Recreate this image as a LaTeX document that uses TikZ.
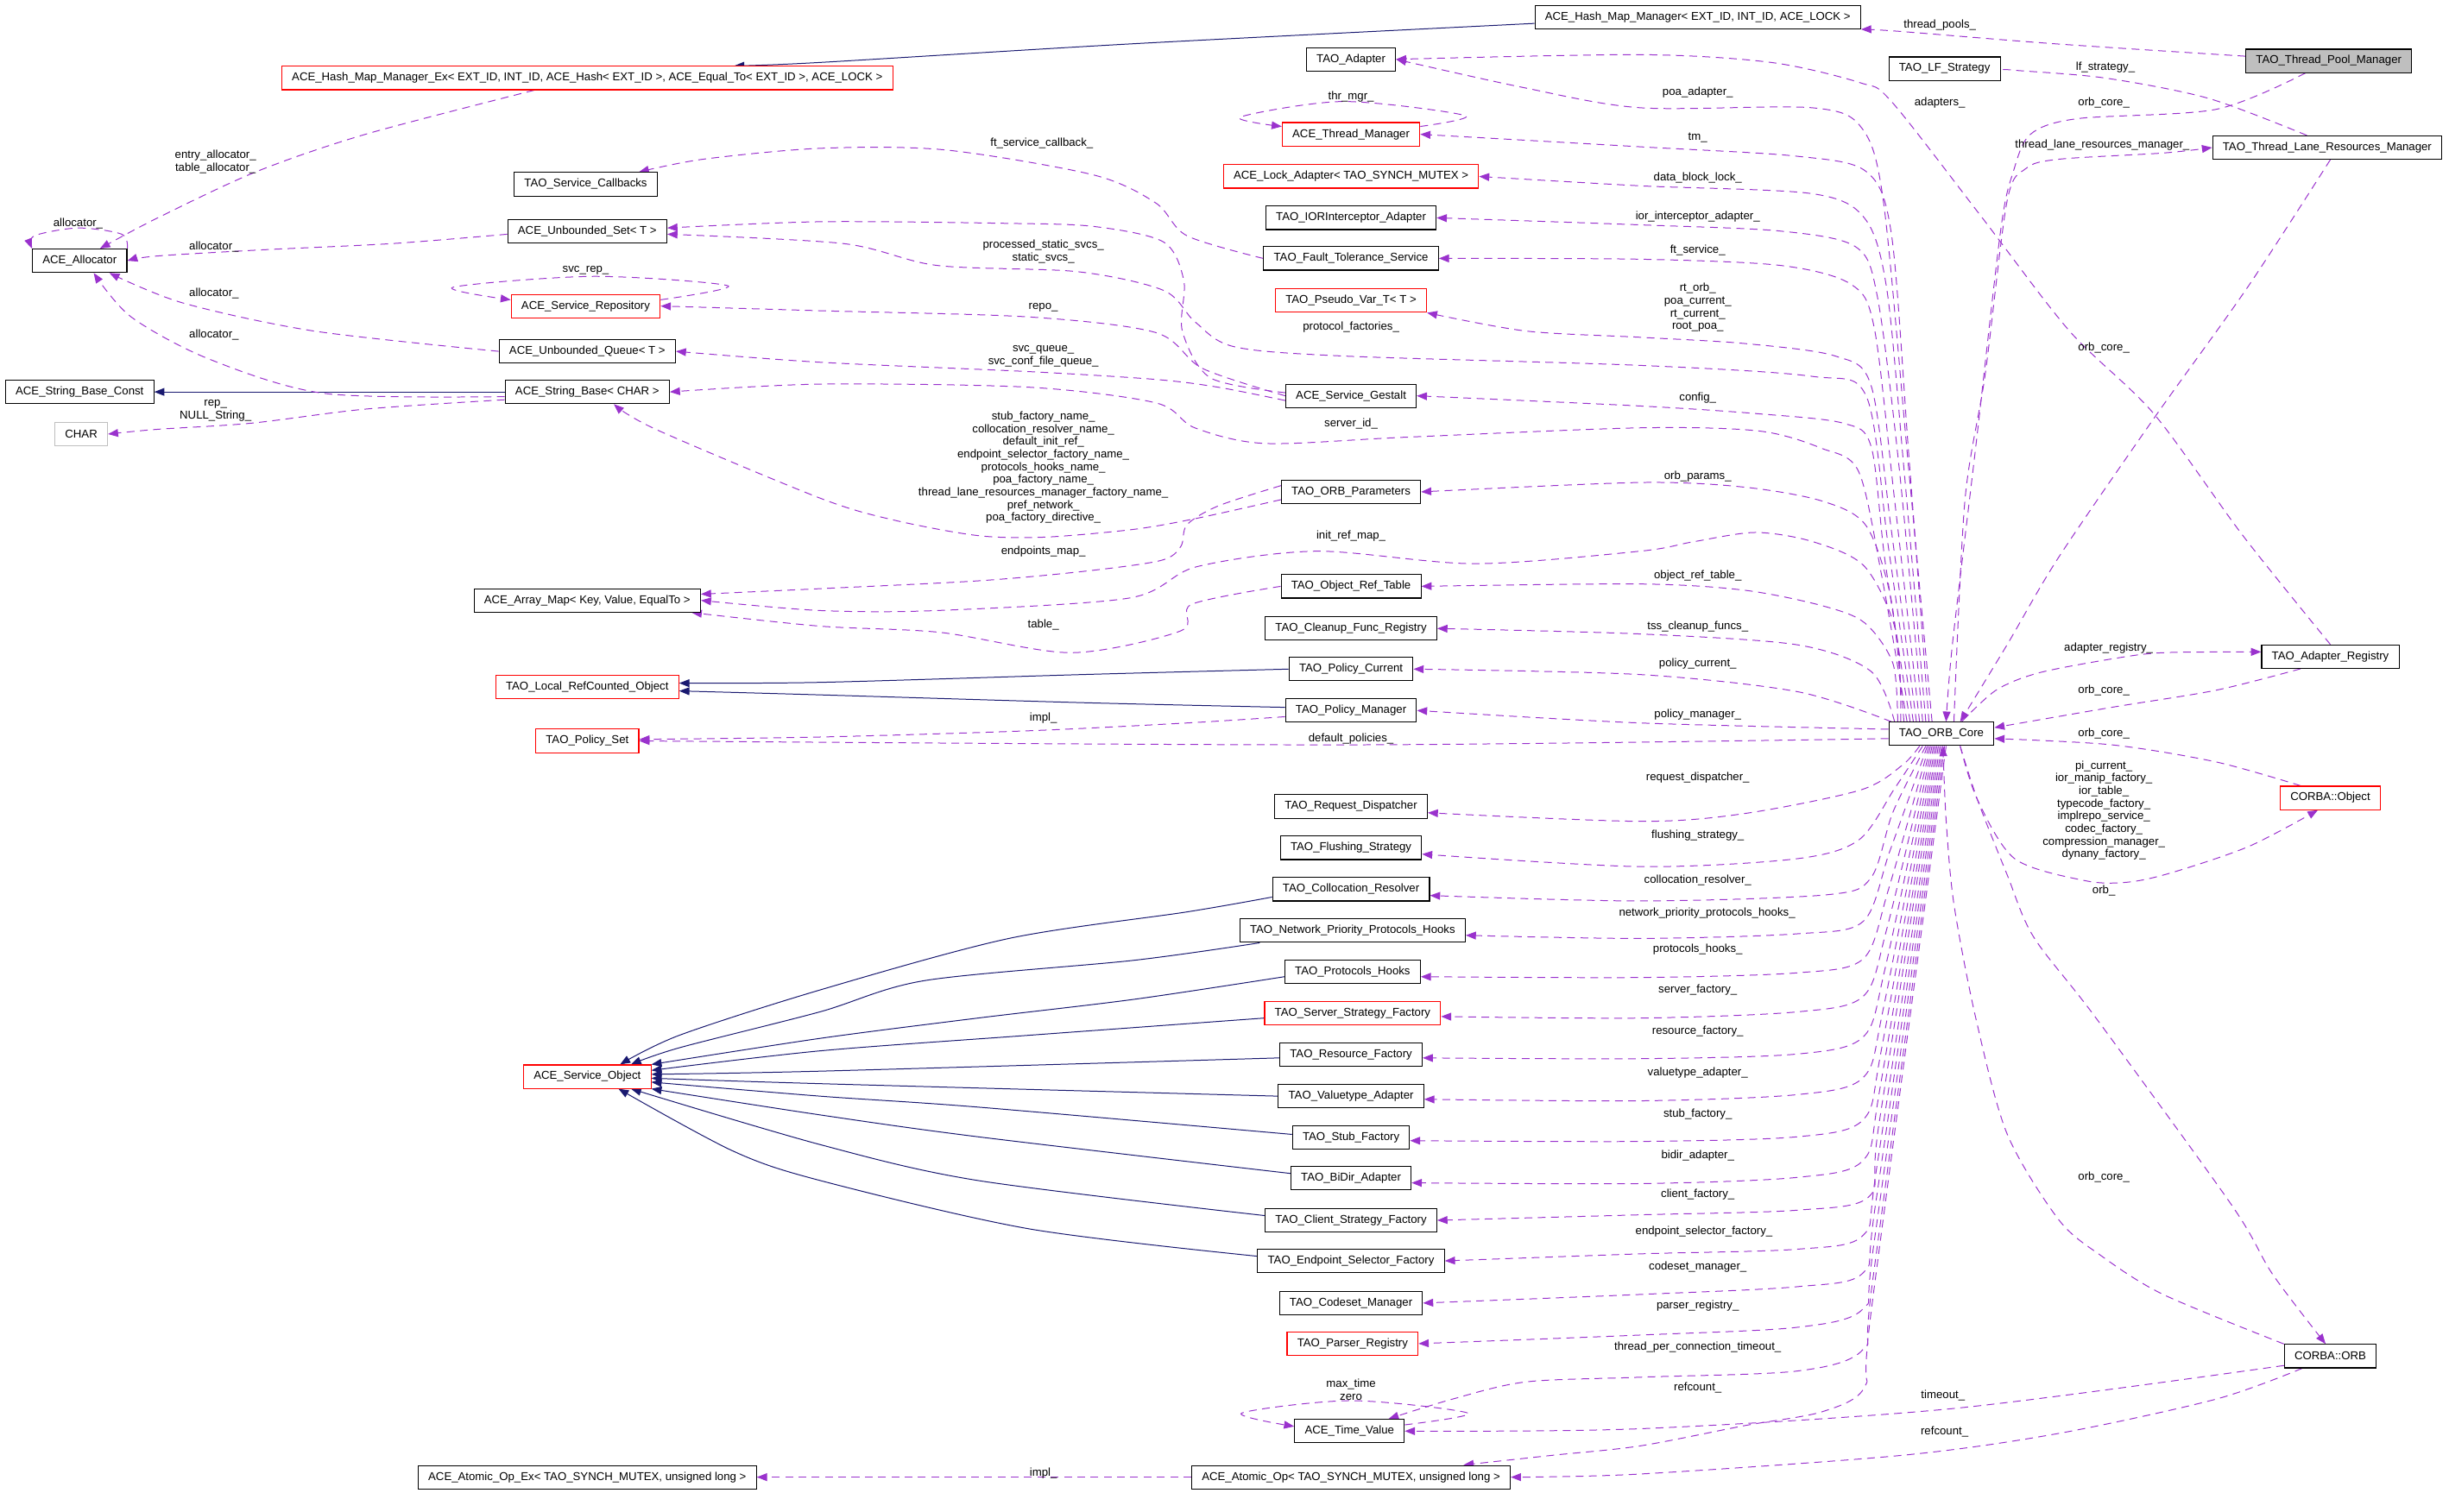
\documentclass[tikz,border=0pt]{standalone}
\usepackage{fontspec}
\setmainfont{Liberation Sans}
\definecolor{doxyPurple}{RGB}{154, 50, 205}
\definecolor{doxyNavy}{RGB}{25, 25, 112}
\definecolor{doxyGrey}{RGB}{191, 191, 191}
\definecolor{doxyRed}{RGB}{255, 0, 0}
\usetikzlibrary{arrows.meta, backgrounds, positioning}

\begin{document}
\begin{tikzpicture}[
    x=1pt, y=1pt,
    cls/.style={rectangle, draw=black, line width=0.6pt, fill=white, minimum height=15pt,
                inner xsep=6.5pt, inner ysep=0pt, font=\fontsize{7.3}{8.1}\selectfont},
    clsred/.style={cls, draw=doxyRed},
    clsgrey/.style={cls, draw=doxyGrey},
    member/.style={-{Triangle[length=6.5pt,width=5pt]}, doxyPurple, line width=0.55pt,
                   dash pattern=on 5pt off 3.5pt},
    inherit/.style={-{Triangle[length=6.5pt,width=5pt]}, doxyNavy, line width=0.55pt},
    lbl/.style={inner sep=0pt, align=center, font=\fontsize{7.3}{8.1}\selectfont},
  ]
  \useasboundingbox (0,0) rectangle (1568,-968);

  % classes
  \node[cls] (hmm) at (1087,-11) {ACE\_Hash\_Map\_Manager< EXT\_ID, INT\_ID, ACE\_LOCK >};
  \node[clsred] (hmmex) at (376,-50) {ACE\_Hash\_Map\_Manager\_Ex< EXT\_ID, INT\_ID, ACE\_Hash< EXT\_ID >, ACE\_Equal\_To< EXT\_ID >, ACE\_LOCK >};
  \node[cls, fill=doxyGrey] (tpm) at (1491,-39) {TAO\_Thread\_Pool\_Manager};
  \node[cls] (adapter) at (865,-38) {TAO\_Adapter};
  \node[cls] (lfs) at (1245,-44) {TAO\_LF\_Strategy};
  \node[clsred] (thrmgr) at (865,-86) {ACE\_Thread\_Manager};
  \node[cls] (tlrm) at (1490,-94.5) {TAO\_Thread\_Lane\_Resources\_Manager};
  \node[cls] (svccb) at (375,-118) {TAO\_Service\_Callbacks};
  \node[clsred] (lockad) at (865,-113) {ACE\_Lock\_Adapter< TAO\_SYNCH\_MUTEX >};
  \node[cls] (iorint) at (865,-139.5) {TAO\_IORInterceptor\_Adapter};
  \node[cls] (unbset) at (376,-148) {ACE\_Unbounded\_Set< T >};
  \node[cls] (alloc) at (51,-167) {ACE\_Allocator};
  \node[cls] (ftsvc) at (865,-165.5) {TAO\_Fault\_Tolerance\_Service};
  \node[clsred] (svcrepo) at (375,-196) {ACE\_Service\_Repository};
  \node[clsred] (pseudovar) at (865,-192.5) {TAO\_Pseudo\_Var\_T< T >};
  \node[cls] (unbqueue) at (376,-225) {ACE\_Unbounded\_Queue< T >};
  \node[cls] (sbconst) at (51,-251) {ACE\_String\_Base\_Const};
  \node[cls] (strbase) at (376,-251) {ACE\_String\_Base< CHAR >};
  \node[cls] (gestalt) at (865,-253.5) {ACE\_Service\_Gestalt};
  \node[clsgrey] (charbox) at (52,-278) {CHAR};
  \node[cls] (orbparams) at (865,-315) {TAO\_ORB\_Parameters};
  \node[cls] (arraymap) at (376,-384.5) {ACE\_Array\_Map< Key, Value, EqualTo >};
  \node[cls] (objref) at (865,-375.5) {TAO\_Object\_Ref\_Table};
  \node[cls] (cleanup) at (865,-402.5) {TAO\_Cleanup\_Func\_Registry};
  \node[clsred] (localrc) at (376,-440) {TAO\_Local\_RefCounted\_Object};
  \node[cls] (polcur) at (865,-428.5) {TAO\_Policy\_Current};
  \node[cls] (adreg) at (1492,-420.5) {TAO\_Adapter\_Registry};
  \node[cls] (polmgr) at (865,-455) {TAO\_Policy\_Manager};
  \node[cls] (core) at (1243,-470) {TAO\_ORB\_Core};
  \node[clsred] (polset) at (376,-474.5) {TAO\_Policy\_Set};
  \node[clsred] (corbaobj) at (1492,-511) {CORBA::Object};
  \node[cls] (reqdisp) at (865,-516.5) {TAO\_Request\_Dispatcher};
  \node[cls] (flush) at (865,-543) {TAO\_Flushing\_Strategy};
  \node[cls] (colloc) at (865,-569.5) {TAO\_Collocation\_Resolver};
  \node[cls] (netprio) at (866,-596) {TAO\_Network\_Priority\_Protocols\_Hooks};
  \node[cls] (prothooks) at (866,-622.5) {TAO\_Protocols\_Hooks};
  \node[clsred] (srvstrat) at (866,-649) {TAO\_Server\_Strategy\_Factory};
  \node[clsred] (svcobj) at (376,-689.5) {ACE\_Service\_Object};
  \node[cls] (resfact) at (865,-675.5) {TAO\_Resource\_Factory};
  \node[cls] (valtype) at (865,-702) {TAO\_Valuetype\_Adapter};
  \node[cls] (stubfact) at (865,-728.5) {TAO\_Stub\_Factory};
  \node[cls] (bidir) at (865,-754.5) {TAO\_BiDir\_Adapter};
  \node[cls] (clistrat) at (865,-781.5) {TAO\_Client\_Strategy\_Factory};
  \node[cls] (endpsel) at (865,-807.5) {TAO\_Endpoint\_Selector\_Factory};
  \node[cls] (codeset) at (865,-834.5) {TAO\_Codeset\_Manager};
  \node[clsred] (parser) at (866,-860.5) {TAO\_Parser\_Registry};
  \node[cls] (corbaorb) at (1492,-868.5) {CORBA::ORB};
  \node[cls] (timeval) at (864,-916.5) {ACE\_Time\_Value};
  \node[cls] (atomicex) at (376,-946) {ACE\_Atomic\_Op\_Ex< TAO\_SYNCH\_MUTEX, unsigned long >};
  \node[cls] (atomic) at (865,-946) {ACE\_Atomic\_Op< TAO\_SYNCH\_MUTEX, unsigned long >};

  % member names
  \node[lbl] (lbThreadPools) at (1242,-16) {thread\_pools\_};
  \node[lbl] (lbLfStrategy) at (1348,-43) {lf\_strategy\_};
  \node[lbl] (lbAdapters) at (1242,-66) {adapters\_};
  \node[lbl] (lbOrbCoreTpm) at (1347,-66) {orb\_core\_};
  \node[lbl] (lbTlrm) at (1346,-93) {thread\_lane\_resources\_manager\_};
  \node[lbl] (lbOrbCoreTlrm) at (1347,-223) {orb\_core\_};
  \node[lbl] (lbPoaAdapter) at (1087,-59) {poa\_adapter\_};
  \node[lbl] (lbThrMgr) at (865,-62) {thr\_mgr\_};
  \node[lbl] (lbTm) at (1087,-88) {tm\_};
  \node[lbl] (lbFtCallback) at (667,-92) {ft\_service\_callback\_};
  \node[lbl] (lbDataBlock) at (1087,-114) {data\_block\_lock\_};
  \node[lbl] (lbEntryAlloc) at (138,-103.5) {entry\_allocator\_\\table\_allocator\_};
  \node[lbl] (lbAllocSelf) at (50,-143) {allocator\_};
  \node[lbl] (lbAllocSet) at (137,-158) {allocator\_};
  \node[lbl] (lbIorInt) at (1087,-139) {ior\_interceptor\_adapter\_};
  \node[lbl] (lbStaticSvcs) at (668,-161) {processed\_static\_svcs\_\\static\_svcs\_};
  \node[lbl] (lbFtService) at (1087,-160.5) {ft\_service\_};
  \node[lbl] (lbSvcRep) at (375,-173) {svc\_rep\_};
  \node[lbl] (lbAllocQueue) at (137,-188) {allocator\_};
  \node[lbl] (lbRtOrb) at (1087,-197) {rt\_orb\_\\poa\_current\_\\rt\_current\_\\root\_poa\_};
  \node[lbl] (lbRepo) at (668,-197) {repo\_};
  \node[lbl] (lbProtFact) at (865,-209.5) {protocol\_factories\_};
  \node[lbl] (lbAllocStr) at (137,-214.5) {allocator\_};
  \node[lbl] (lbSvcQueue) at (668,-228) {svc\_queue\_\\svc\_conf\_file\_queue\_};
  \node[lbl] (lbConfig) at (1087,-255) {config\_};
  \node[lbl] (lbRep) at (138,-263) {rep\_\\NULL\_String\_};
  \node[lbl] (lbServerId) at (865,-271.5) {server\_id\_};
  \node[lbl] (lbNames) at (668,-299.5) {stub\_factory\_name\_\\collocation\_resolver\_name\_\\default\_init\_ref\_\\endpoint\_selector\_factory\_name\_\\protocols\_hooks\_name\_\\poa\_factory\_name\_\\thread\_lane\_resources\_manager\_factory\_name\_\\pref\_network\_\\poa\_factory\_directive\_};
  \node[lbl] (lbOrbParams) at (1087,-305) {orb\_params\_};
  \node[lbl] (lbInitRef) at (865,-343) {init\_ref\_map\_};
  \node[lbl] (lbEndpoints) at (668,-353) {endpoints\_map\_};
  \node[lbl] (lbObjRefTable) at (1087,-368.5) {object\_ref\_table\_};
  \node[lbl] (lbTable) at (668,-400) {table\_};
  \node[lbl] (lbTss) at (1087,-401.5) {tss\_cleanup\_funcs\_};
  \node[lbl] (lbAdapterReg) at (1350,-415) {adapter\_registry\_};
  \node[lbl] (lbPolicyCurrent) at (1087,-425) {policy\_current\_};
  \node[lbl] (lbOrbCoreReg) at (1347,-442) {orb\_core\_};
  \node[lbl] (lbPolicyMgr) at (1087,-457.5) {policy\_manager\_};
  \node[lbl] (lbImplPol) at (668,-460) {impl\_};
  \node[lbl] (lbOrbCoreObj) at (1347,-470) {orb\_core\_};
  \node[lbl] (lbDefaultPol) at (865,-473) {default\_policies\_};
  \node[lbl] (lbPiCurrent) at (1347,-519) {pi\_current\_\\ior\_manip\_factory\_\\ior\_table\_\\typecode\_factory\_\\implrepo\_service\_\\codec\_factory\_\\compression\_manager\_\\dynany\_factory\_};
  \node[lbl] (lbReqDisp) at (1087,-498) {request\_dispatcher\_};
  \node[lbl] (lbFlushing) at (1087,-535) {flushing\_strategy\_};
  \node[lbl] (lbColloc) at (1087,-564) {collocation\_resolver\_};
  \node[lbl] (lbOrb) at (1347,-570.5) {orb\_};
  \node[lbl] (lbNetPrio) at (1093,-585) {network\_priority\_protocols\_hooks\_};
  \node[lbl] (lbProtHooks) at (1087,-608) {protocols\_hooks\_};
  \node[lbl] (lbServerFact) at (1087,-634) {server\_factory\_};
  \node[lbl] (lbResFact) at (1087,-660.5) {resource\_factory\_};
  \node[lbl] (lbValtype) at (1087,-687) {valuetype\_adapter\_};
  \node[lbl] (lbStubFact) at (1087,-713.5) {stub\_factory\_};
  \node[lbl] (lbBidir) at (1087,-740) {bidir\_adapter\_};
  \node[lbl] (lbOrbCoreOrb) at (1347,-754) {orb\_core\_};
  \node[lbl] (lbClientFact) at (1087,-765) {client\_factory\_};
  \node[lbl] (lbEndpSel) at (1091,-789) {endpoint\_selector\_factory\_};
  \node[lbl] (lbCodeset) at (1087,-811.5) {codeset\_manager\_};
  \node[lbl] (lbParser) at (1087,-836.5) {parser\_registry\_};
  \node[lbl] (lbTpct) at (1087,-863) {thread\_per\_connection\_timeout\_};
  \node[lbl] (lbMaxTime) at (865,-890) {max\_time\\zero};
  \node[lbl] (lbRefcountCore) at (1087,-889) {refcount\_};
  \node[lbl] (lbTimeout) at (1244,-893.5) {timeout\_};
  \node[lbl] (lbRefcountOrb) at (1245,-917) {refcount\_};
  \node[lbl] (lbImplAtomic) at (668,-943.5) {impl\_};

  \begin{scope}[on background layer]
    % base classes
    \draw[inherit] plot[smooth] coordinates {([yshift=-4pt]hmm.west) (726,-28) (525,-40) ([xshift=94pt]hmmex.north)};
    \draw[inherit] (strbase.west) -- (sbconst.east);
    \draw[inherit] plot[smooth] coordinates {(polcur.west) (693,-432) (525,-437) ([yshift=2.5pt]localrc.east)};
    \draw[inherit] plot[smooth] coordinates {([yshift=2pt]polmgr.west) (693,-450) (525,-445) ([yshift=-2.5pt]localrc.east)};
    \draw[inherit] plot[smooth] coordinates {([yshift=-5pt]colloc.west) (760,-584) (646,-601) (525,-634) (435,-663) ([xshift=21pt]svcobj.north)};
    \draw[inherit] plot[smooth] coordinates {([xshift=13pt]netprio.south west) (726,-615) (592,-628) (525,-648) (435,-671) ([xshift=28pt]svcobj.north)};
    \draw[inherit] plot[smooth] coordinates {([yshift=-3pt]prothooks.west) (726,-640) (626,-652) (525,-665) (svcobj.north east)};
    \draw[inherit] plot[smooth] coordinates {([yshift=-3pt]srvstrat.west) (659,-663) (525,-673) ([yshift=4pt]svcobj.east)};
    \draw[inherit] plot[smooth] coordinates {([yshift=-2pt]resfact.west) (525,-686) ([yshift=1.5pt]svcobj.east)};
    \draw[inherit] plot[smooth] coordinates {(valtype.west) (525,-694) ([yshift=-1pt]svcobj.east)};
    \draw[inherit] plot[smooth] coordinates {([yshift=2pt]stubfact.west) (626,-709) (525,-702) ([yshift=-3.5pt]svcobj.east)};
    \draw[inherit] plot[smooth] coordinates {([yshift=3pt]bidir.west) (626,-728) (525,-714) (svcobj.south east)};
    \draw[inherit] plot[smooth] coordinates {([yshift=3pt]clistrat.west) (626,-756) (525,-733) ([xshift=28pt]svcobj.south)};
    \draw[inherit] plot[smooth] coordinates {([yshift=3pt]endpsel.west) (659,-787) (525,-756) (469,-737) ([xshift=20pt]svcobj.south)};

    % members, left part
    \draw[member] plot[smooth] coordinates {([xshift=-34pt]hmmex.south) (234,-86) (164,-110) (100,-140) ([xshift=13pt]alloc.north)};
    \draw[member] plot[smooth] coordinates {(alloc.north east) (78,-150) (50,-146) (22,-151) (alloc.north west)};
    \draw[member] plot[smooth] coordinates {([yshift=-2pt]unbset.west) (251,-156) (168,-160) (100,-164) (alloc.east)};
    \draw[member] plot[smooth] coordinates {(unbqueue.west) (201,-212) (117,-194) ([xshift=19pt]alloc.south)};
    \draw[member] plot[smooth] coordinates {([yshift=-3pt]strbase.west) (208,-252) (134,-230) (84,-203) ([xshift=9pt]alloc.south)};
    \draw[member] plot[smooth] coordinates {([yshift=-5pt]strbase.west) (234,-262) (161,-271) (100,-275) (charbox.east)};
    \draw[member] plot[smooth] coordinates {(ftsvc.west) (760,-151) (740,-130) (700,-112) (605,-96) (525,-95) (450,-102) ([xshift=34pt]svccb.north)};
    \draw[member] plot[smooth] coordinates {([yshift=2pt]gestalt.west) (775,-242) (757,-212) (758,-180) (745,-155) (700,-145) (642,-143) (525,-142) ([yshift=2pt]unbset.east)};
    \draw[member] plot[smooth] coordinates {(gestalt.west) (770,-236) (740,-213) (659,-203) (525,-199) (svcrepo.east)};
    \draw[member] plot[smooth] coordinates {([yshift=-3pt]gestalt.west) (780,-248) (740,-243) (659,-238) (525,-232) (unbqueue.east)};
    \draw[member] plot[smooth] coordinates {([yshift=4pt]svcrepo.east) (466,-183) (380,-177) (290,-184) ([yshift=4pt]svcrepo.west)};
    \draw[member] plot[smooth] coordinates {([yshift=-5pt]orbparams.west) (766,-332) (726,-339) (669,-344) (626,-343) (572,-333) (525,-319) (420,-275) ([xshift=17pt]strbase.south)};
    \draw[member] plot[smooth] coordinates {([yshift=4pt]orbparams.west) (780,-324) (760,-336) (756,-350) (743,-359) (693,-366) (626,-372) (525,-377) ([yshift=4pt]arraymap.east)};
    \draw[member] plot[smooth] coordinates {(objref.west) (763,-387) (756,-404) (686,-418) (602,-405) (525,-401) ([xshift=-6pt]arraymap.south east)};
    \draw[member] plot[smooth] coordinates {([yshift=-4pt]polmgr.west) (760,-463) (659,-468) (525,-472) ([yshift=1pt]polset.east)};
    \draw[member] (atomic.west) -- (atomicex.east);
    \draw[member] plot[smooth] coordinates {([yshift=5pt]thrmgr.east) (938,-74) (860,-65) (794,-75) ([yshift=5pt]thrmgr.west)};
    \draw[member] plot[smooth] coordinates {([yshift=4pt]timeval.east) (940,-905) (865,-897) (795,-905) ([yshift=3pt]timeval.west)};

    % members of TAO_ORB_Core, upwards
    \draw[member] plot[smooth] coordinates {([xshift=-6pt]core.north) (1222,-300) (1206,-130) (1192,-82) (1160,-69) (1050,-69) (975,-56) (adapter.east)};
    \draw[member] plot[smooth] coordinates {([xshift=-8pt]core.north) (1222,-290) (1211,-150) (1195,-110) (1150,-100) (1050,-94) (thrmgr.east)};
    \draw[member] plot[smooth] coordinates {([xshift=-10pt]core.north) (1219,-300) (1208,-185) (1194,-140) (1160,-124) (1050,-119) (lockad.east)};
    \draw[member] plot[smooth] coordinates {([xshift=-12pt]core.north) (1216,-300) (1202,-190) (1188,-158) (1140,-148) (1050,-144) (iorint.east)};
    \draw[member] plot[smooth] coordinates {([xshift=-14pt]core.north) (1213,-320) (1200,-210) (1185,-182) (1140,-170) (1050,-166) (ftsvc.east)};
    \draw[member] plot[smooth] coordinates {([xshift=-16pt]core.north) (1211,-340) (1198,-247) (1175,-228) (1117,-220) (1050,-216) (977,-212) (pseudovar.south east)};
    \draw[member] plot[smooth] coordinates {([xshift=-18pt]core.north) (1209,-350) (1195,-254) (1160,-241) (1050,-234) (860,-228) (790,-222) (765,-206) (745,-186) (690,-174) (600,-170) (540,-156) ([yshift=-2pt]unbset.east)};
    \draw[member] plot[smooth] coordinates {([xshift=-20pt]core.north) (1207,-360) (1198,-286) (1180,-271) (1126,-265) (1050,-260) (gestalt.east)};
    \draw[member] plot[smooth] coordinates {([xshift=-22pt]core.north) (1205,-370) (1190,-302) (1166,-287) (1126,-276) (1050,-274) (900,-280) (810,-284) (765,-274) (740,-258) (659,-248) (525,-246) (strbase.east)};
    \draw[member] plot[smooth] coordinates {([xshift=-24pt]core.north) (1211,-385) (1195,-337) (1167,-321) (1117,-312) (1050,-309) (orbparams.east)};
    \draw[member] plot[smooth] coordinates {([xshift=-26pt]core.north) (1214,-405) (1194,-363) (1161,-347) (1124,-341) (1084,-347) (1050,-353) (944,-361) (843,-353) (766,-363) (723,-383) (600,-391) (525,-391) (arraymap.east)};
    \draw[member] plot[smooth] coordinates {([xshift=-28pt]core.north) (1212,-425) (1194,-399) (1167,-388) (1117,-378) (1050,-374) (objref.east)};
    \draw[member] plot[smooth] coordinates {([xshift=-30pt]core.north) (1198,-430) (1151,-413) (1050,-406) (cleanup.east)};
    \draw[member] plot[smooth] coordinates {([xshift=-32pt]core.north) (1151,-443) (1050,-432) (polcur.east)};
    \draw[member] plot[smooth] coordinates {([yshift=3pt]core.west) (1050,-463) (polmgr.east)};
    \draw[member] plot[smooth] coordinates {([yshift=-3pt]core.west) (865,-477) (polset.east)};

    % members of TAO_ORB_Core, downwards
    \draw[member] plot[smooth] coordinates {([xshift=-14pt]core.south) (1218,-490) (1191,-506) (1117,-521) (1050,-526) ([yshift=-4pt]reqdisp.east)};
    \draw[member] plot[smooth] coordinates {([xshift=-12pt]core.south) (1213,-505) (1190,-538) (1150,-550) (1050,-555) ([yshift=-4pt]flush.east)};
    \draw[member] plot[smooth] coordinates {([xshift=-10pt]core.south) (1212,-520) (1198,-562) (1170,-573) (1050,-577) ([yshift=-4pt]colloc.east)};
    \draw[member] plot[smooth] coordinates {([xshift=-9pt]core.south) (1210,-545) (1193,-590) (1151,-598) (1050,-601) ([yshift=-3pt]netprio.east)};
    \draw[member] plot[smooth] coordinates {([xshift=-8pt]core.south) (1209,-570) (1193,-614) (1151,-623) (1050,-626) ([yshift=-3pt]prothooks.east)};
    \draw[member] plot[smooth] coordinates {([xshift=-7pt]core.south) (1208,-595) (1193,-638) (1151,-648) (1050,-652) ([yshift=-2pt]srvstrat.east)};
    \draw[member] plot[smooth] coordinates {([xshift=-6pt]core.south) (1207,-620) (1193,-664) (1151,-675) (1050,-678) ([yshift=-2pt]resfact.east)};
    \draw[member] plot[smooth] coordinates {([xshift=-5pt]core.south) (1206,-645) (1193,-690) (1151,-701) (1050,-705) ([yshift=-2pt]valtype.east)};
    \draw[member] plot[smooth] coordinates {([xshift=-4pt]core.south) (1205,-670) (1193,-717) (1151,-728) (1050,-731) ([yshift=-2pt]stubfact.east)};
    \draw[member] plot[smooth] coordinates {([xshift=-3pt]core.south) (1204,-695) (1193,-743) (1151,-754) (1050,-758) ([yshift=-3pt]bidir.east)};
    \draw[member] plot[smooth] coordinates {([xshift=-2pt]core.south) (1203,-720) (1197,-766) (1151,-775) (1050,-778) (clistrat.east)};
    \draw[member] plot[smooth] coordinates {([xshift=-1pt]core.south) (1202,-745) (1193,-791) (1151,-800) (1050,-803) (endpsel.east)};
    \draw[member] plot[smooth] coordinates {(core.south) (1201,-770) (1193,-815) (1151,-824) (1050,-829) (codeset.east)};
    \draw[member] plot[smooth] coordinates {([xshift=1pt]core.south) (1200,-795) (1193,-838) (1151,-850) (1050,-855) (parser.east)};
    \draw[member] plot[smooth] coordinates {([xshift=2pt]core.south) (1199,-820) (1193,-864) (1151,-878) (1050,-882) (977,-885) (930,-896) ([xshift=25pt]timeval.north)};
    \draw[member] plot[smooth] coordinates {([xshift=3pt]core.south) (1198,-840) (1194,-888) (1167,-904) (1117,-913) (1050,-926) (994,-932) ([xshift=72pt]atomic.north)};

    % right part
    \draw[member] plot[smooth] coordinates {([yshift=3pt]tpm.west) (1315,-28) (1215,-20) (hmm.south east)};
    \draw[member] plot[smooth] coordinates {([xshift=-13pt]tlrm.north) (1414,-63) (1348,-50) (1290,-45) (lfs.east)};
    \draw[member] plot[smooth] coordinates {([xshift=-15pt]tpm.south) (1419,-70) (1330,-76) (1300,-86) (1289,-110) (1281,-147) (1265,-286) (1250,-413) ([xshift=3pt]core.north)};
    \draw[member] plot[smooth] coordinates {([xshift=8pt]core.north) (1258,-321) (1271,-240) (1285,-129) (1297,-108) (1318,-102) (1385,-98) (tlrm.west)};
    \draw[member] plot[smooth] coordinates {([xshift=2pt]tlrm.south) (1439,-184) (1379,-268) (1318,-357) (1285,-413) ([xshift=12pt]core.north)};
    \draw[member] plot[smooth] coordinates {(adreg.north) (1436,-343) (1379,-265) (1325,-212) (1268,-138) (1211,-65) (1191,-53) (1134,-40) (1050,-35) (adapter.east)};
    \draw[member] plot[smooth] coordinates {([xshift=13pt]core.north) (1278,-442) (1305,-431) (1352,-422) (1385,-418) ([yshift=3pt]adreg.west)};
    \draw[member] plot[smooth] coordinates {([xshift=-19pt]adreg.south) (1419,-442) (1352,-453) ([yshift=4pt]core.east)};
    \draw[member] plot[smooth] coordinates {([xshift=-19pt]corbaobj.north) (1419,-488) (1352,-477) ([yshift=-3pt]core.east)};
    \draw[member] plot[smooth] coordinates {([xshift=12pt]core.south) (1266,-512) (1290,-550) (1335,-564) (1362,-565) (1390,-559) (1440,-542) ([xshift=-8pt]corbaobj.south)};
    \draw[member] plot[smooth] coordinates {([xshift=12pt]core.south) (1266,-512) (1285,-560) (1302,-600) (1342,-652) (1429,-772) (1455,-816) ([xshift=-3pt]corbaorb.north)};
    \draw[member] plot[smooth] coordinates {(corbaorb.north west) (1385,-829) (1345,-804) (1318,-781) (1285,-726) (1265,-652) (1251,-579) (1246,-525) ([xshift=1pt]core.south)};
    \draw[member] plot[smooth] coordinates {([yshift=-6pt]corbaorb.west) (1251,-902) (1050,-915) (timeval.east)};
    \draw[member] plot[smooth] coordinates {([xshift=-18pt]corbaorb.south) (1419,-896) (1318,-918) (1218,-932) (1050,-944) (atomic.east)};
  \end{scope}
\end{tikzpicture}
\end{document}
